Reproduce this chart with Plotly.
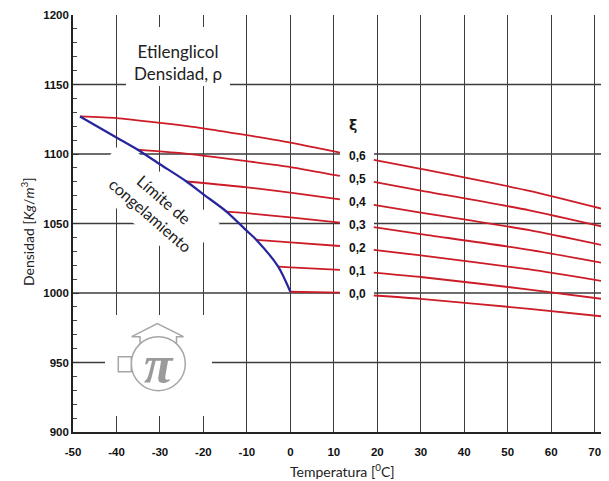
import math
import plotly.graph_objects as go

# ---------------- data ----------------
xi_values = [0.0, 0.1, 0.2, 0.3, 0.4, 0.5, 0.6]
xi_labels = ["0,0", "0,1", "0,2", "0,3", "0,4", "0,5", "0,6"]

# freezing limit (blue)
freeze_T = [-48.4, -40, -35.2, -30, -23.9, -20, -14.7, -10, -7.8, -2.8, 0]
freeze_rho = [1127.0, 1111.9, 1103.2, 1092.6, 1080.2, 1071.0, 1058.6, 1044.7, 1038.2, 1019.0, 1000.9]

# left segments (from freezing limit to ~11 C)
left_T = {
    0.6: [-48.4, -40, -30, -20, -10, 0, 11.4],
    0.5: [-35.2, -25, -10, 0, 11.4],
    0.4: [-23.9, -10, 0, 11.4],
    0.3: [-14.7, -10, 0, 11.4],
    0.2: [-7.8, 0, 11.4],
    0.1: [-2.8, 0, 11.4],
    0.0: [0, 11.4],
}
left_rho = {
    0.6: [1127.0, 1125.8, 1122.4, 1118.5, 1113.5, 1108.2, 1101.0],
    0.5: [1103.2, 1100.6, 1094.8, 1090.6, 1084.2],
    0.4: [1080.2, 1076.0, 1072.2, 1067.4],
    0.3: [1058.6, 1057.4, 1054.4, 1050.6],
    0.2: [1038.2, 1036.4, 1033.8],
    0.1: [1019.0, 1018.5, 1016.6],
    0.0: [1000.9, 1000.3],
}

# right segments (from ~19 C to the right edge)
right_T = [19.2, 30, 55, 73.3]
right_rho = {
    0.6: [1095.8, 1089.3, 1073.5, 1059.3],
    0.5: [1079.9, 1073.7, 1059.5, 1046.7],
    0.4: [1063.4, 1057.9, 1045.2, 1033.4],
    0.3: [1047.4, 1042.4, 1031.1, 1020.8],
    0.2: [1031.1, 1027.0, 1017.0, 1007.8],
    0.1: [1014.7, 1011.5, 1002.5, 995.1],
    0.0: [998.2, 995.8, 988.6, 982.7],
}

x_ticks = [-50, -40, -30, -20, -10, 0, 10, 20, 30, 40, 50, 60, 70]
y_ticks = [900, 950, 1000, 1050, 1100, 1150, 1200]
y_grid = [950, 1000, 1050, 1100, 1150]

# ---------------- layout geometry ----------------
# the page body has an 8px margin, so the figure is placed at (8, 8)
PAGE_OFF = 8
PLOT_L, PLOT_T, PLOT_R, PLOT_B = 73, 15, 609, 432   # plot area in window pixels
W_FIG = 609 - PAGE_OFF
H_FIG = 481 - PAGE_OFF
M_L = PLOT_L - PAGE_OFF
M_T = PLOT_T - PAGE_OFF
M_R = 0
M_B = H_FIG - (PLOT_B - PAGE_OFF)
X_RANGE = [-50, 73.3]
Y_RANGE = [900, 1200]


def px_x(p):
    return X_RANGE[0] + (p - PLOT_L) * (X_RANGE[1] - X_RANGE[0]) / (PLOT_R - PLOT_L)


def px_y(p):
    return Y_RANGE[1] - (p - PLOT_T) * (Y_RANGE[1] - Y_RANGE[0]) / (PLOT_B - PLOT_T)


RED = "#cc1c28"
BLUE = "#26269c"
GRID = "#3c3c3c"
GRAY = "#a6a6a6"

fig = go.Figure()

for xi in xi_values:
    fig.add_trace(go.Scatter(x=left_T[xi], y=left_rho[xi], mode="lines",
                             line=dict(color=RED, width=1.8, shape="spline", smoothing=0.6),
                             showlegend=False, hoverinfo="skip"))
    fig.add_trace(go.Scatter(x=right_T, y=right_rho[xi], mode="lines",
                             line=dict(color=RED, width=1.8, shape="spline", smoothing=0.6),
                             showlegend=False, hoverinfo="skip"))

fig.add_trace(go.Scatter(x=freeze_T, y=freeze_rho, mode="lines",
                         line=dict(color=BLUE, width=2.2, shape="spline", smoothing=0.8),
                         showlegend=False, hoverinfo="skip"))

shapes = []
# horizontal grid lines
for v in y_grid:
    shapes.append(dict(type="line", xref="paper", yref="y", x0=0, x1=1, y0=v, y1=v,
                       line=dict(color=GRID, width=1.3), layer="below"))


def mask_rect(x0, x1, y0, y1):
    return dict(type="rect", xref="x", yref="y", x0=px_x(x0), x1=px_x(x1),
                y0=px_y(y0), y1=px_y(y1), fillcolor="white", line=dict(width=0),
                layer="between")


shapes.append(mask_rect(126, 230, 27, 86))     # title box
shapes.append(mask_rect(340, 374, 108, 306))   # xi label column
shapes.append(mask_rect(105, 212, 315, 416))   # logo area

# rotated mask behind "Límite de congelamiento"
cx, cy, hl, hh, ang = 153, 203, 64, 28, math.radians(41)
ux, uy = math.cos(ang), math.sin(ang)
vx, vy = -uy, ux
pts = [(cx + a * hl * ux + b * hh * vx, cy + a * hl * uy + b * hh * vy)
       for a, b in [(-1, -1), (1, -1), (1, 1), (-1, 1)]]
path = "M " + " L ".join(f"{px_x(px)},{px_y(py)}" for px, py in pts) + " Z"
shapes.append(dict(type="path", xref="x", yref="y", path=path, fillcolor="white",
                   line=dict(width=0), layer="between"))

# logo (circle, side square, arrow)
lc_x, lc_y, lr = 158.3, 363.7, 27
shapes.append(dict(type="circle", xref="x", yref="y",
                   x0=px_x(lc_x - lr), x1=px_x(lc_x + lr), y0=px_y(lc_y + lr), y1=px_y(lc_y - lr),
                   line=dict(color=GRAY, width=1.5), layer="above"))
shapes.append(dict(type="rect", xref="x", yref="y",
                   x0=px_x(118.3), x1=px_x(131.3), y0=px_y(371.7), y1=px_y(356.7),
                   line=dict(color=GRAY, width=1.5), fillcolor="white", layer="above"))
arrow_pts = [(140, 343.8), (140, 336.7), (131.7, 336.7), (157.3, 323.5), (183.5, 336.7),
             (176.5, 336.7), (176.5, 343.8)]
apath = "M " + " L ".join(f"{px_x(px)},{px_y(py)}" for px, py in arrow_pts)
shapes.append(dict(type="path", xref="x", yref="y", path=apath,
                   line=dict(color=GRAY, width=1.5), layer="above"))

annotations = []
TXT_FONT = "Lato, Open Sans, sans-serif"
annotations.append(dict(x=px_x(178), y=px_y(62), xref="x", yref="y",
                        text="Etilenglicol<br>Densidad, ρ", showarrow=False,
                        font=dict(family=TXT_FONT, size=17, color="#222")))
annotations.append(dict(x=px_x(157), y=px_y(207), xref="x", yref="y",
                        text="Límite de<br>congelamiento", showarrow=False, textangle=41,
                        font=dict(family=TXT_FONT, size=16, color="#222")))
annotations.append(dict(x=px_x(352.5), y=px_y(125), xref="x", yref="y", text="<b>ξ</b>",
                        showarrow=False,
                        font=dict(family="DejaVu Sans", size=14, color="#1a1a1a")))
for xi, lab in zip(xi_values, xi_labels):
    ymid = (left_rho[xi][-1] + right_rho[xi][0]) / 2
    annotations.append(dict(x=px_x(357), y=ymid, xref="x", yref="y", text=f"<b>{lab}</b>",
                            showarrow=False,
                            font=dict(family="Liberation Sans, Arial", size=12, color="#111")))
annotations.append(dict(x=px_x(158.5), y=px_y(364), xref="x", yref="y", text="<b><i>π</i></b>",
                        showarrow=False,
                        font=dict(family="Liberation Serif", size=52, color="#9a9a9a")))
annotations.append(dict(x=px_x(342), y=0, xref="x", yref="paper", yshift=-38,
                        xanchor="center", yanchor="middle",
                        text="Temperatura [<sup>0</sup>C]", showarrow=False,
                        font=dict(family=TXT_FONT, size=14, color="#222")))
annotations.append(dict(x=0, y=px_y(232), xref="paper", yref="y", xshift=-46,
                        xanchor="center", yanchor="middle",
                        text="Densidad [<i>Kg</i>/<i>m</i><sup>3</sup>]", showarrow=False,
                        textangle=-90,
                        font=dict(family=TXT_FONT, size=14, color="#222")))

fig.update_layout(
    width=W_FIG, height=H_FIG,
    margin=dict(l=M_L, r=M_R, t=M_T, b=M_B, pad=0),
    paper_bgcolor="white", plot_bgcolor="white",
    shapes=shapes, annotations=annotations,
    xaxis=dict(range=X_RANGE, tickmode="array", tickvals=x_ticks,
               ticktext=[str(v) for v in x_ticks],
               showgrid=True, gridcolor=GRID, gridwidth=1.3, zeroline=False,
               showline=True, linecolor="#222", linewidth=1.6, ticks="",
               ticklabelstandoff=8,
               tickfont=dict(family="Liberation Sans, Arial", size=11.5, color="#111", weight="bold")),
    yaxis=dict(range=Y_RANGE, tickmode="array", tickvals=y_ticks,
               ticktext=[str(v) for v in y_ticks],
               showgrid=False, zeroline=False,
               showline=True, linecolor="#222", linewidth=1.6,
               ticks="inside", ticklen=6, tickcolor="#333",
               minor=dict(tick0=900, dtick=10, ticks="inside", ticklen=4, tickcolor="#444", showgrid=False),
               tickfont=dict(family="Liberation Sans, Arial", size=11.5, color="#111", weight="bold")),
)

fig.write_html("out.html")
